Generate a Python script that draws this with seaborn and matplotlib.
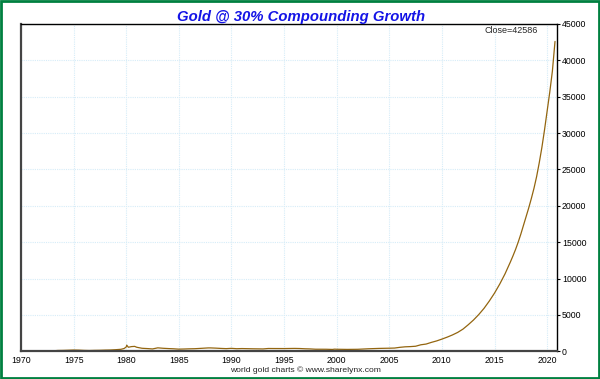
import pandas as pd
import matplotlib.pyplot as plt
import seaborn as sns
from matplotlib.patches import Rectangle

# Gold price (USD), decimal years
years = [1970.0, 1971.0, 1972.0, 1972.5, 1973.0, 1973.5, 1974.0, 1974.5, 1975.0, 1975.5,
         1976.0, 1976.5, 1977.0, 1977.5, 1978.0, 1978.5, 1979.0, 1979.5, 1979.8, 1980.0,
         1980.05, 1980.2, 1980.5, 1980.8, 1981.0, 1981.5, 1982.0, 1982.5, 1983.0, 1983.5,
         1984.0, 1984.5, 1985.0, 1985.5, 1986.0, 1986.5, 1987.0, 1987.8, 1988.0, 1988.5,
         1989.0, 1989.5, 1990.0, 1990.5, 1991.0, 1991.5, 1992.0, 1993.0, 1993.5, 1994.0,
         1995.0, 1996.0, 1996.5, 1997.0, 1997.5, 1998.0, 1999.0, 1999.6, 1999.8, 2000.0,
         2001.0, 2002.0, 2002.5, 2003.0, 2004.0, 2005.0, 2005.5, 2006.0, 2006.5, 2007.0,
         2007.5, 2008.0, 2008.5, 2009.0, 2009.5, 2010.0, 2010.5, 2011.0, 2011.5, 2012.0,
         2012.5, 2013.0, 2013.5, 2014.0, 2014.5, 2015.0, 2015.5, 2016.0, 2016.5, 2016.75,
         2017.0, 2017.25, 2017.5, 2017.75, 2018.0, 2018.25, 2018.5, 2018.75, 2019.0, 2019.25,
         2019.5, 2019.75, 2020.0, 2020.25, 2020.5, 2020.75]
prices = [35, 38, 46, 65, 65, 120, 130, 155, 180, 165,
          130, 115, 135, 145, 170, 185, 225, 280, 390, 600,
          850, 560, 650, 680, 560, 420, 380, 330, 480, 420,
          380, 350, 300, 320, 345, 360, 400, 470, 470, 440,
          400, 370, 410, 360, 380, 365, 350, 330, 390, 385,
          380, 400, 385, 350, 330, 290, 285, 260, 300, 285,
          265, 280, 315, 350, 400, 430, 450, 550, 620, 650,
          700, 900, 1000, 1230, 1430, 1680, 1950, 2250, 2600, 3050,
          3650, 4300, 5050, 5900, 6900, 8000, 9250, 10650, 12250, 13100,
          14000, 15000, 16100, 17300, 18500, 19700, 21000, 22400, 24000, 25900,
          28000, 30400, 33000, 35600, 38500, 42586]

x_ticks = [1970, 1975, 1980, 1985, 1990, 1995, 2000, 2005, 2010, 2015, 2020]
y_ticks = [0, 5000, 10000, 15000, 20000, 25000, 30000, 35000, 40000, 45000]

df = pd.DataFrame({"year": years, "price": prices})

sns.set_style("white")
plt.rcParams['font.family'] = ['Liberation Sans', 'DejaVu Sans']

fig = plt.figure(figsize=(6, 3.79), dpi=100)
# plot area: x 21..557 px, y 24..351 px
ax = fig.add_axes([0.035, 0.073, 0.893, 0.864])

sns.lineplot(data=df, x="year", y="price", color="#93650f", linewidth=0.9, ax=ax)

ax.set_xlim(1970, 2020.92)
ax.set_ylim(0, 45000)
ax.set_xticks(x_ticks)
ax.set_xticklabels([str(t) for t in x_ticks], fontsize=6.3)
ax.set_yticks(y_ticks)
ax.set_yticklabels([str(t) for t in y_ticks], fontsize=6.3)
ax.yaxis.tick_right()
ax.tick_params(axis="both", direction="out", length=2.5, width=0.8, pad=1.2, colors="black")
ax.set_xlabel("")
ax.set_ylabel("")
ax.grid(True, color="#d6ecf8", linestyle=(0, (1, 1)), linewidth=0.8)

for side in ["top", "right"]:
    ax.spines[side].set_color("black")
    ax.spines[side].set_linewidth(1.0)
for side in ["left", "bottom"]:
    ax.spines[side].set_color("#444444")
    ax.spines[side].set_linewidth(1.6)

ax.text(0.965, 0.993, "Close=42586", transform=ax.transAxes, ha="right", va="top", fontsize=6.5)

fig.text(0.502, 0.944, "Gold @ 30% Compounding Growth", ha="center", va="baseline",
         fontsize=10.7, fontweight="bold", fontstyle="italic", color="#1414e6")
fig.text(0.509, 0.023, "world gold charts \u00a9 www.sharelynx.com", ha="center", va="center",
         fontsize=6.1)

fig.patches.append(Rectangle((0.002, 0.003), 0.996, 0.994, transform=fig.transFigure,
                             fill=False, edgecolor="#008040", linewidth=2))

plt.savefig("out.png", dpi=100)
